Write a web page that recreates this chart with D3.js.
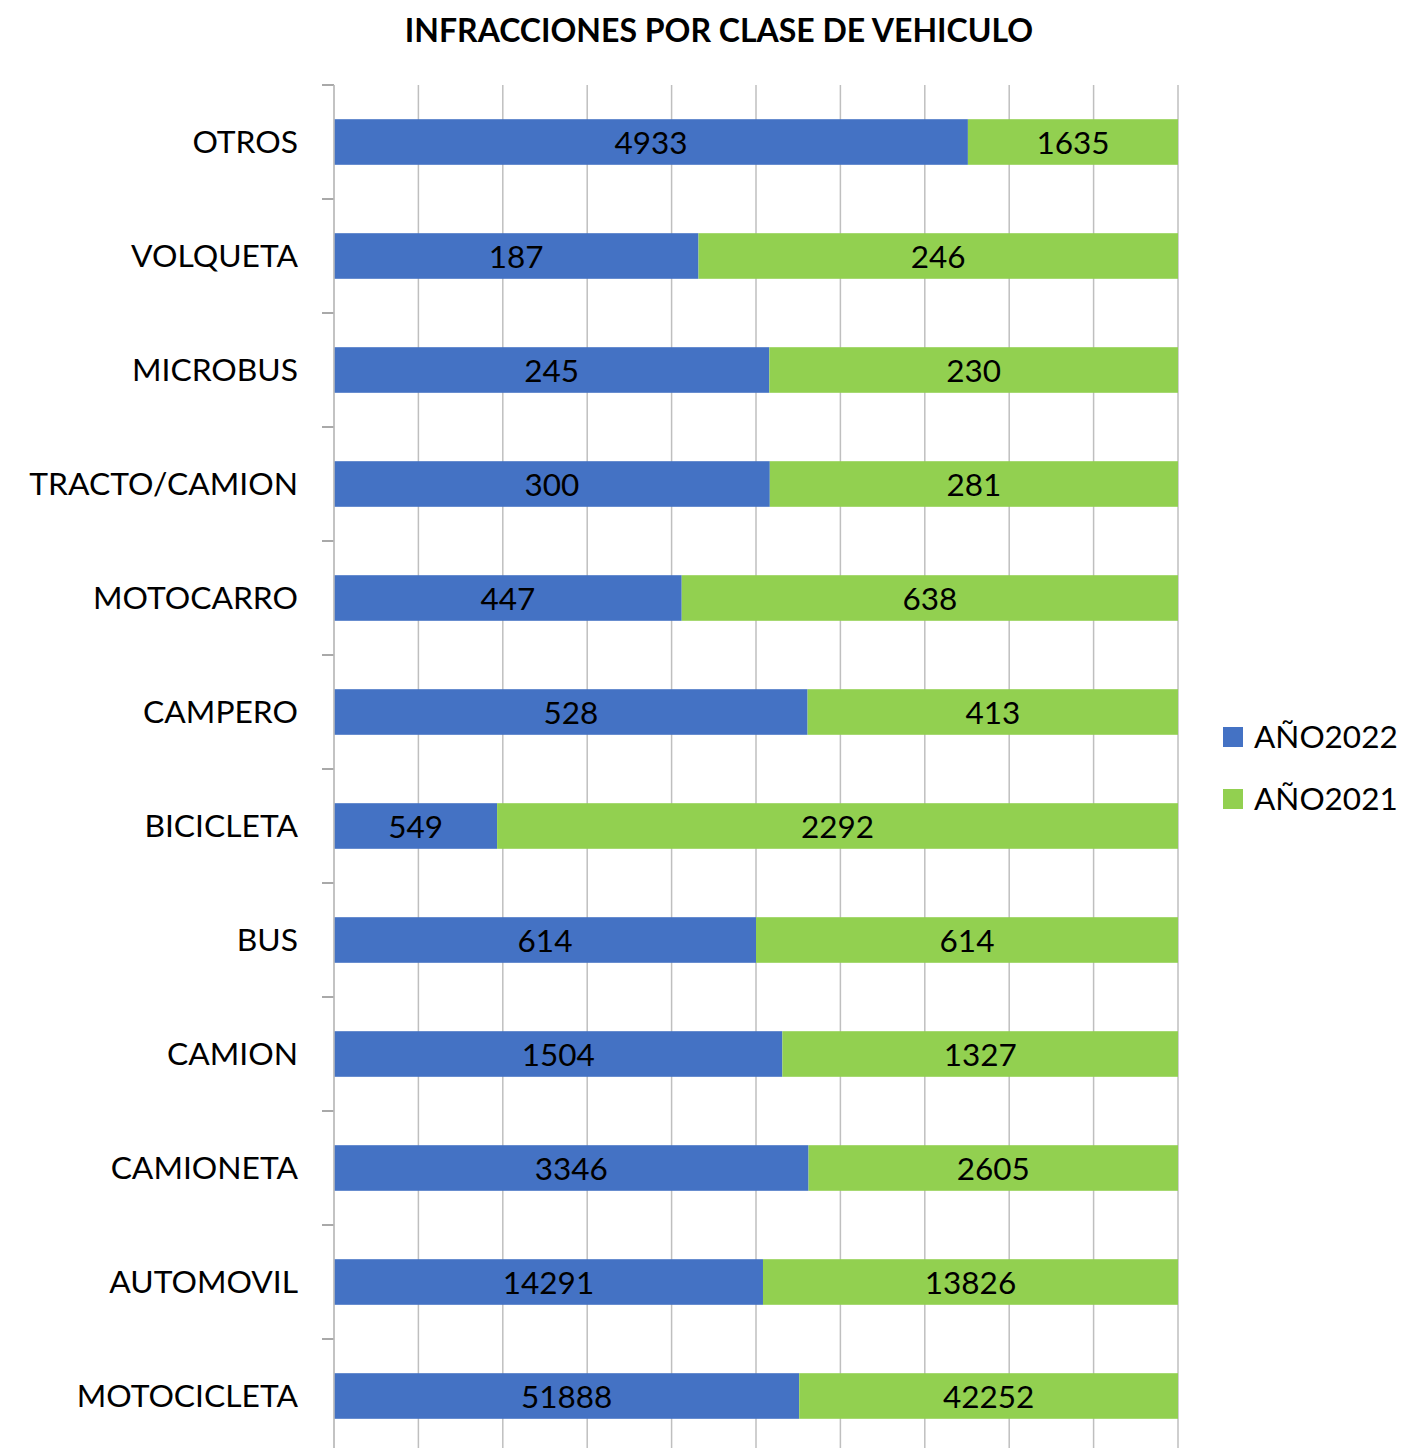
<!DOCTYPE html>
<html>
<head>
<meta charset="utf-8">
<script src="https://cdn.jsdelivr.net/npm/d3@7"></script>
<style>
  body { margin: 0; background: #fff; }
  svg text { font-family: Lato, "Open Sans", sans-serif; }
</style>
</head>
<body>
<svg id="chart" width="1405" height="1448"></svg>
<script>
/* ── DATA ─────────────────────────────────────── */
const categories = ['OTROS', 'VOLQUETA', 'MICROBUS', 'TRACTO/CAMION', 'MOTOCARRO', 'CAMPERO',
                    'BICICLETA', 'BUS', 'CAMION', 'CAMIONETA', 'AUTOMOVIL', 'MOTOCICLETA'];
const anio2022 = [4933, 187, 245, 300, 447, 528, 549, 614, 1504, 3346, 14291, 51888];
const anio2021 = [1635, 246, 230, 281, 638, 413, 2292, 614, 1327, 2605, 13826, 42252];
const seriesNames = ['AÑO2022', 'AÑO2021'];
const seriesColors = ['#4472c4', '#92d050'];
const xTicks = [0, 0.1, 0.2, 0.3, 0.4, 0.5, 0.6, 0.7, 0.8, 0.9, 1];

/* ── LAYOUT ───────────────────────────────────── */
const svg = d3.select('#chart');
const plot = { left: 334, right: 1178, top: 85, bottom: 1453 };

const rows = categories.map((c, i) => ({ cat: c, AÑO2022: anio2022[i], AÑO2021: anio2021[i] }));
const stacked = d3.stack().keys(seriesNames).offset(d3.stackOffsetExpand)(rows);

const x = d3.scaleLinear().domain([0, 1]).range([plot.left, plot.right]);
const y = d3.scaleBand().domain(categories).range([plot.top, plot.bottom]).paddingInner(0.6).paddingOuter(0.3);
const yb = d3.scaleBand().domain(categories).range([plot.top, plot.bottom]);

/* title */
svg.append('text')
  .attr('x', 719).attr('y', 42)
  .attr('text-anchor', 'middle')
  .attr('font-size', 32).attr('font-weight', 'bold')
  .attr('fill', '#000')
  .text('INFRACCIONES POR CLASE DE VEHICULO');

/* gridlines */
svg.append('g').selectAll('line').data(xTicks).join('line')
  .attr('x1', d => x(d)).attr('x2', d => x(d))
  .attr('y1', plot.top).attr('y2', plot.bottom)
  .attr('stroke', '#bfbfbf').attr('stroke-width', 1.5);

/* y axis ticks (category boundaries) */
const bounds = categories.map(c => yb(c));
svg.append('g').selectAll('line').data(bounds).join('line')
  .attr('x1', plot.left - 12).attr('x2', plot.left)
  .attr('y1', d => d).attr('y2', d => d)
  .attr('stroke', '#8c8c8c').attr('stroke-width', 1.5);

/* bars */
const layer = svg.append('g').selectAll('g').data(stacked).join('g')
  .attr('fill', (d, i) => seriesColors[i]);

layer.selectAll('rect').data(d => d).join('rect')
  .attr('x', d => x(d[0]))
  .attr('width', d => x(d[1]) - x(d[0]))
  .attr('y', d => y(d.data.cat))
  .attr('height', y.bandwidth());

/* axis line */
svg.append('line')
  .attr('x1', plot.left).attr('x2', plot.left)
  .attr('y1', plot.top).attr('y2', plot.bottom)
  .attr('stroke', '#bfbfbf').attr('stroke-width', 1.5);

/* value labels */
stacked.forEach(s => {
  svg.append('g').selectAll('text').data(s).join('text')
    .attr('x', d => (x(d[0]) + x(d[1])) / 2)
    .attr('y', d => y(d.data.cat) + y.bandwidth() / 2 + 1)
    .attr('dy', '0.36em')
    .attr('text-anchor', 'middle')
    .attr('font-size', 31.5)
    .attr('fill', '#000')
    .text(d => d.data[s.key]);
});

/* category labels */
svg.append('g').selectAll('text').data(categories).join('text')
  .attr('x', 298)
  .attr('y', d => yb(d) + yb.bandwidth() / 2)
  .attr('dy', '0.36em')
  .attr('text-anchor', 'end')
  .attr('font-size', 31.8)
  .attr('fill', '#000')
  .text(d => d);

/* legend */
const legend = svg.append('g').selectAll('g').data(seriesNames).join('g')
  .attr('transform', (d, i) => `translate(1223, ${727 + i * 62})`);
legend.append('rect')
  .attr('width', 20).attr('height', 20)
  .attr('fill', (d, i) => seriesColors[i]);
legend.append('text')
  .attr('x', 31).attr('y', 10).attr('dy', '0.36em')
  .attr('font-size', 31.5).attr('fill', '#000')
  .text(d => d);
</script>
</body>
</html>
